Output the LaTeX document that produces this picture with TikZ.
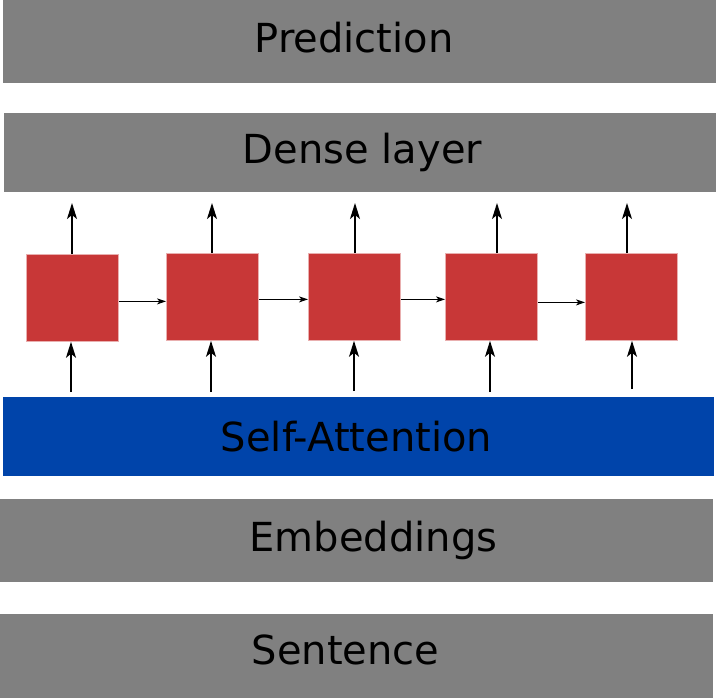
\documentclass[tikz,border=0pt]{standalone}
\usepackage{fontspec}
\setmainfont{DejaVu Sans}
\usetikzlibrary{calc}
\usetikzlibrary{arrows.meta}
\definecolor{layergray}{HTML}{808080}
\definecolor{attnblue}{HTML}{0044AA}
\definecolor{cellred}{HTML}{C83737}
\definecolor{cellborder}{HTML}{E9AFAF}
\tikzset{%
layer/.style={fill=layergray,anchor=north west,inner sep=0pt,minimum height=80pt},%
layertext/.style={anchor=base,inner sep=0pt,font=\fontsize{40}{48}\selectfont},%
cell/.style={fill=cellred,draw=cellborder,line width=0.8pt,anchor=north west,inner sep=0pt,minimum width=92pt,minimum height=87pt},%
uparrow/.style={line width=1.6pt,-{Stealth[length=16pt,width=10pt,inset=4pt]}},%
sidearrow/.style={line width=0.9pt,-{Stealth[length=9pt,width=6pt,inset=2.5pt]}},%
}

\begin{document}
\begin{tikzpicture}[x=1pt,y=-1pt]%
\useasboundingbox (0,0) rectangle (718,698);%
% layers
\node[layer,minimum width=713pt,minimum height=83pt] (pred) at (3,0) {};%
\node[layer,minimum width=712pt,minimum height=79pt] (dense) at (4,113) {};%
\node[layer,fill=attnblue,minimum width=711pt,minimum height=79pt] (attn) at (3,397) {};%
\node[layer,minimum width=713pt,minimum height=83pt] (emb) at (0,499) {};%
\node[layer,minimum width=713pt,minimum height=84pt] (sent) at (0,614) {};%
\node[layertext] (predtext) at (354,53) {Prediction};%
\node[layertext] (densetext) at (362.5,164) {Dense layer};%
\node[layertext] (attntext) at (356.5,451.5) {Self-Attention};%
\node[layertext] (embtext) at (373.5,551) {Embeddings};%
\node[layertext] (senttext) at (345.5,664) {Sentence};%
% recurrent cells
\node[cell] (c1) at (26,254) {};%
\node[cell] (c2) at (166,253) {};%
\node[cell] (c3) at (308,253) {};%
\node[cell] (c4) at (445,253) {};%
\node[cell] (c5) at (585,253) {};%
% outputs to the dense layer
\coordinate (o1) at (72,203);%
\coordinate (o2) at (212,203);%
\coordinate (o3) at (355,203);%
\coordinate (o4) at (497,203);%
\coordinate (o5) at (627,203);%
\draw[uparrow] (c1.north -| o1) -- (o1);%
\draw[uparrow] (c2.north -| o2) -- (o2);%
\draw[uparrow] (c3.north -| o3) -- (o3);%
\draw[uparrow] (c4.north -| o4) -- (o4);%
\draw[uparrow] (c5.north -| o5) -- (o5);%
% inputs from self-attention
\coordinate (i1) at (71,392);%
\coordinate (i2) at (211,392);%
\coordinate (i3) at (354,391);%
\coordinate (i4) at (490,392);%
\coordinate (i5) at (632,389);%
\draw[uparrow] (i1) -- (i1 |- c1.south);%
\draw[uparrow] (i2) -- (i2 |- c2.south);%
\draw[uparrow] (i3) -- (i3 |- c3.south);%
\draw[uparrow] (i4) -- (i4 |- c4.south);%
\draw[uparrow] (i5) -- (i5 |- c5.south);%
% hidden state
\draw[sidearrow] ([yshift=-3.5pt]c1.east) -- ([yshift=-4.5pt]c2.west);%
\draw[sidearrow] ([yshift=-2.5pt]c2.east) -- ([yshift=-2.5pt]c3.west);%
\draw[sidearrow] ([yshift=-2.5pt]c3.east) -- ([yshift=-2.5pt]c4.west);%
\draw[sidearrow] ([yshift=-5.5pt]c4.east) -- ([yshift=-5.5pt]c5.west);%
\end{tikzpicture}
\end{document}
